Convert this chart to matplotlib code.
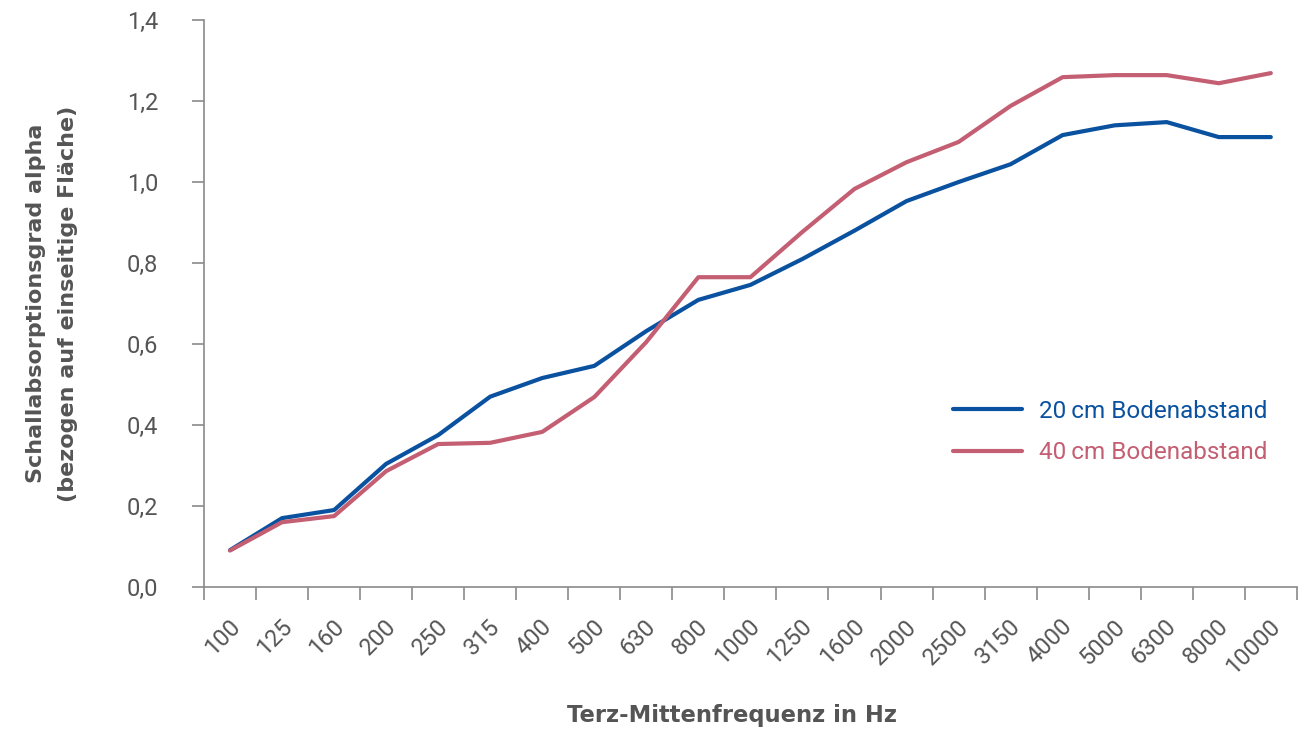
import matplotlib
matplotlib.use("agg")
import matplotlib.pyplot as plt
import numpy as np

freqs = ["100", "125", "160", "200", "250", "315", "400", "500", "630", "800", "1000",
         "1250", "1600", "2000", "2500", "3150", "4000", "5000", "6300", "8000", "10000"]
alpha_20cm = [0.091, 0.17, 0.19, 0.304, 0.375, 0.47, 0.516, 0.546, 0.632, 0.709, 0.746,
              0.81, 0.88, 0.953, 1.0, 1.044, 1.116, 1.14, 1.148, 1.111, 1.111]
alpha_40cm = [0.09, 0.16, 0.175, 0.286, 0.353, 0.356, 0.383, 0.469, 0.605, 0.765, 0.765,
              0.877, 0.983, 1.049, 1.099, 1.188, 1.259, 1.264, 1.264, 1.244, 1.269]
labels = ["20\u2009cm Bodenabstand", "40\u2009cm Bodenabstand"]

plt.rcParams['font.family'] = ['Roboto', 'DejaVu Sans']
grey = "#555555"
spine = "#8a8a8a"
blue = "#0a52a0"
pink = "#c45e72"

fig = plt.figure(figsize=(13.01, 7.43), dpi=100)
ax = fig.add_axes([0.1568, 0.21, 0.840, 0.763])

x = np.arange(len(freqs))
ax.plot(x, alpha_20cm, color=blue, lw=3, label=labels[0], solid_capstyle="round")
ax.plot(x, alpha_40cm, color=pink, lw=3, label=labels[1], solid_capstyle="round")

ax.set_xlim(-0.5, len(freqs) - 0.5)
ax.set_ylim(0, 1.4)
ax.set_yticks(np.arange(0, 1.41, 0.2))
ax.set_yticklabels([f"{v:.1f}".replace(".", ",") for v in np.arange(0, 1.41, 0.2)])

# tick marks between categories, labels centered
ax.set_xticks(np.arange(-0.5, len(freqs), 1.0))
ax.set_xticklabels([])
ax.set_xticks(x + 0.12, minor=True)
ax.set_xticklabels(freqs, minor=True, rotation=45, ha="right", va="center",
                   rotation_mode="anchor")
ax.tick_params(axis="x", which="minor", length=0, pad=26, labelsize=17, labelcolor=grey)
ax.tick_params(axis="x", which="major", length=9, color=spine, width=1.2)
ax.tick_params(axis="y", length=9, color=spine, width=1.2, labelsize=17,
               labelcolor=grey, pad=24)

for s in ["top", "right"]:
    ax.spines[s].set_visible(False)
for s in ["left", "bottom"]:
    ax.spines[s].set_color(spine)
    ax.spines[s].set_linewidth(1.2)

ax.set_ylabel("Schallabsorptionsgrad alpha\n(bezogen auf einseitige Fläche)",
              fontsize=16, fontweight="bold", color=grey, linespacing=1.75,
              family="DejaVu Sans")
ax.yaxis.set_label_coords(-0.115, 0.5)
fig.text(0.563, 0.021, "Terz-Mittenfrequenz in Hz", fontsize=16.3, fontweight="bold",
         color=grey, ha="center", va="bottom", family="DejaVu Sans")

leg = ax.legend(loc="upper left", bbox_to_anchor=(0.685, 0.33), frameon=False,
                fontsize=17.5, labelcolor="linecolor", handlelength=2.85,
                handletextpad=0.7, labelspacing=0.75, borderpad=0, borderaxespad=0)

fig.savefig("out.png", dpi=100)
